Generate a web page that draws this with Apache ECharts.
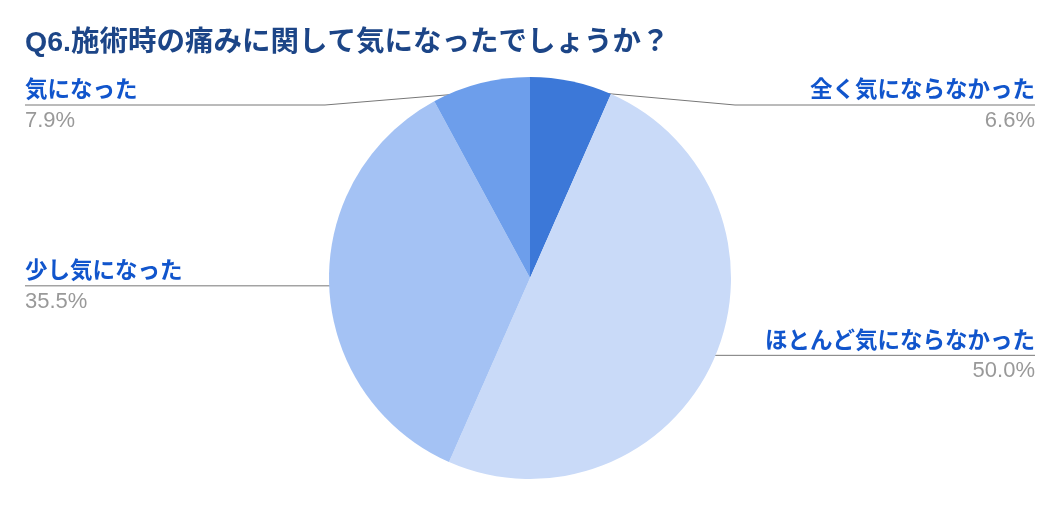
<!DOCTYPE html>
<html lang="ja">

<head>
    <meta charset="UTF-8">
    <title>Q6 pie</title>
    <script type="text/javascript" src="https://cdn.jsdelivr.net/npm/echarts@6/dist/echarts.min.js"></script>
    <style>
        body { margin: 0; background: #fff; }
    </style>
</head>

<body>
    <div id="main" style="width: 1060px; height: 506px;"></div>
    <script>
        // data
        var titleText = 'Q6.施術時の痛みに関して気になったでしょうか？';
        var names = ['全く気にならなかった', 'ほとんど気にならなかった', '少し気になった', '気になった'];
        var values = [6.6, 50.0, 35.5, 7.9];
        var colors = ['#3c78d8', '#c9daf8', '#a4c2f4', '#6d9eeb'];

        var cx = 530, cy = 278, r = 201;
        var font = "'Liberation Sans', 'Noto Sans CJK JP', sans-serif";

        var total = values.reduce(function (a, b) { return a + b; }, 0);

        function midAngle(i) {
            var acc = 0;
            for (var k = 0; k < i; k++) acc += values[k];
            return (acc + values[i] / 2) / total * Math.PI * 2;
        }

        var myChart = echarts.init(document.getElementById('main'));
        var W = 1060;

        myChart.setOption({
            animation: false,
            title: {
                text: titleText,
                left: 25,
                top: 29,
                padding: 0,
                textStyle: {
                    fontFamily: font,
                    fontSize: 28.5,
                    fontWeight: 'bold',
                    color: '#1c4587'
                }
            },
            series: [
                {
                    type: 'pie',
                    center: [cx, cy],
                    radius: r,
                    startAngle: 90,
                    clockwise: true,
                    data: names.map(function (n, i) {
                        return { name: n, value: values[i], itemStyle: { color: colors[i] } };
                    }),
                    itemStyle: { borderWidth: 0 },
                    emphasis: { disabled: true },
                    label: {
                        show: true,
                        position: 'outside',
                        overflow: 'none',
                        formatter: function (p) {
                            return '{n|' + p.name + '}\n{v|' + p.value.toFixed(1) + '%}';
                        },
                        rich: {
                            n: {
                                fontFamily: font,
                                fontSize: 22.5,
                                fontWeight: 'bold',
                                color: '#1155cc',
                                lineHeight: 28
                            },
                            v: {
                                fontFamily: font,
                                fontSize: 22,
                                color: '#999999',
                                lineHeight: 32
                            }
                        }
                    },
                    labelLine: {
                        show: true,
                        length: 10,
                        length2: 10,
                        lineStyle: { color: '#777777', width: 1 }
                    },
                    labelLayout: function (params) {
                        var i = params.dataIndex;
                        var a = midAngle(i);
                        var sx = Math.sin(a), sy = -Math.cos(a);
                        var p0 = [cx + 0.955 * r * sx, cy + 0.955 * r * sy];
                        var lineY = Math.max(p0[1], cy - r + 28);
                        var isLeft = sx < 0;
                        var edgeX = isLeft ? 25 : W - 25;
                        var elbowX = isLeft ? Math.min(p0[0], cx - r - 4) : Math.max(p0[0], cx + r + 4);
                        return {
                            x: edgeX,
                            y: lineY - 28,
                            align: isLeft ? 'left' : 'right',
                            verticalAlign: 'top',
                            labelLinePoints: [p0, [elbowX, lineY], [edgeX, lineY]]
                        };
                    }
                }
            ]
        });
    </script>
</body>

</html>
